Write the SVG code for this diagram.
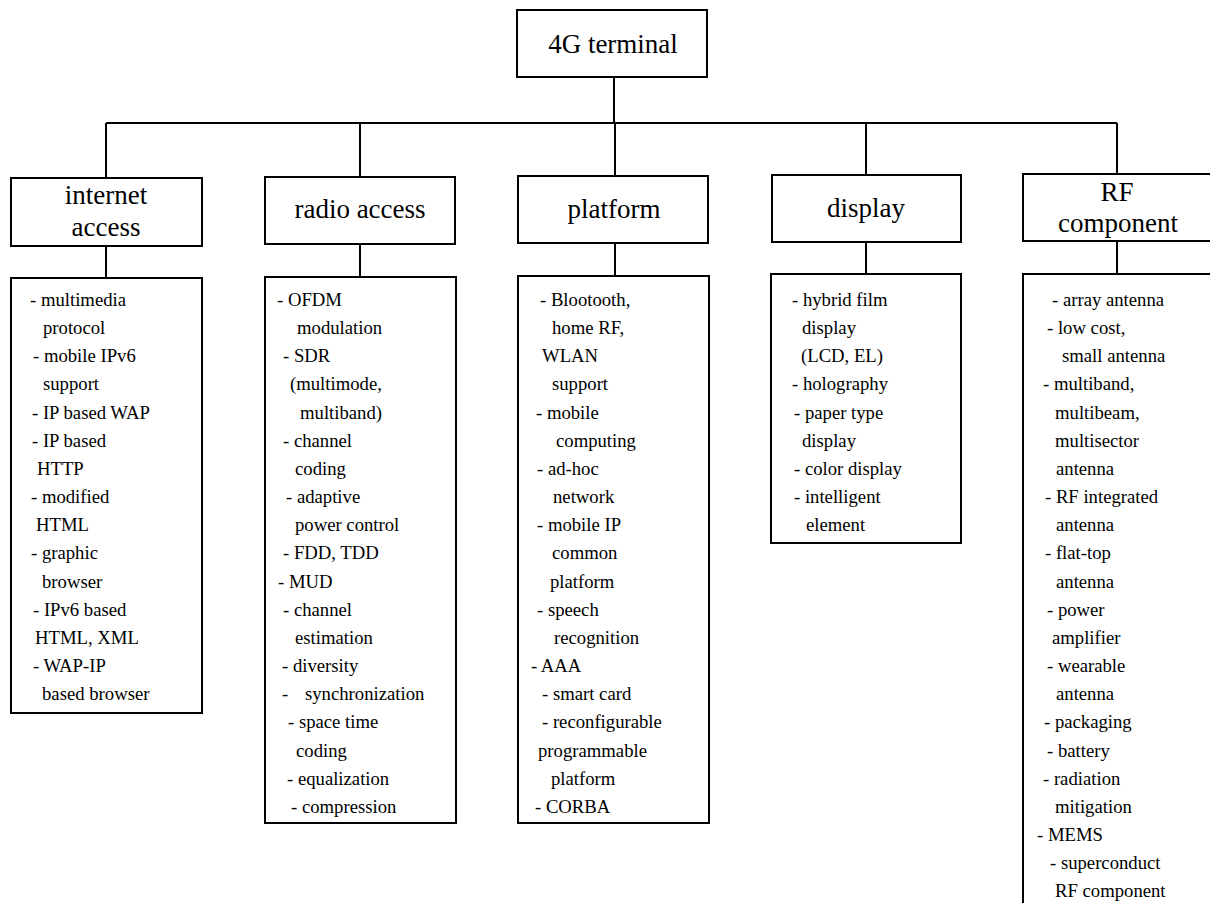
<svg xmlns="http://www.w3.org/2000/svg" width="1210" height="903" viewBox="0 0 1210 903">
<style>
.box{fill:#fff;stroke:#000;stroke-width:2}
.con{fill:none;stroke:#000;stroke-width:2}
.t{font-family:"Liberation Serif","Times New Roman",serif;font-size:27px;fill:#000;text-anchor:middle}
.d{font-family:"Liberation Serif","Times New Roman",serif;font-size:18.7px;fill:#000}
</style>
<rect x="0" y="0" width="1210" height="903" fill="#fff"/>
<g id="connectors">
<path class="con" d="M614 77V123M106 123H1117M106 123V178M360 123V177M615 123V176M866 123V175M1117 123V174"/>
<path class="con" d="M106 246V278M360 244V277M615 243V276M866 242V274M1117 241V274"/>
</g>
<g id="n-4g">
<rect class="box" x="517" y="10" width="190" height="67"/>
<text class="t" x="613" y="53">4G terminal</text>
</g>
<g id="n-internet">
<rect class="box" x="11" y="178" width="191" height="68"/>
<text class="t" x="106" y="204">internet</text>
<text class="t" x="106" y="236">access</text>
</g>
<g id="n-radio">
<rect class="box" x="265" y="177" width="190" height="67"/>
<text class="t" x="360" y="218">radio access</text>
</g>
<g id="n-platform">
<rect class="box" x="518" y="176" width="190" height="67"/>
<text class="t" x="614" y="218">platform</text>
</g>
<g id="n-display">
<rect class="box" x="772" y="175" width="189" height="67"/>
<text class="t" x="866" y="217">display</text>
</g>
<g id="n-rf">
<rect class="box" x="1023" y="174" width="190" height="67"/>
<text class="t" x="1117" y="201">RF</text>
<text class="t" x="1118" y="232">component</text>
</g>
<g id="d-internet">
<rect class="box" x="11" y="278" width="191" height="435"/>
<text class="d" x="30" y="306">- multimedia</text>
<text class="d" x="43" y="334">protocol</text>
<text class="d" x="33" y="362">- mobile IPv6</text>
<text class="d" x="43" y="390">support</text>
<text class="d" x="32" y="419">- IP based WAP</text>
<text class="d" x="32" y="447">- IP based</text>
<text class="d" x="37" y="475">HTTP</text>
<text class="d" x="31" y="503">- modified</text>
<text class="d" x="36" y="531">HTML</text>
<text class="d" x="31" y="559">- graphic</text>
<text class="d" x="42" y="588">browser</text>
<text class="d" x="33" y="616">- IPv6 based</text>
<text class="d" x="35" y="644">HTML, XML</text>
<text class="d" x="33" y="672">- WAP-IP</text>
<text class="d" x="42" y="700">based browser</text>
</g>
<g id="d-radio">
<rect class="box" x="265" y="277" width="191" height="546"/>
<text class="d" x="277" y="306">- OFDM</text>
<text class="d" x="297" y="334">modulation</text>
<text class="d" x="283" y="362">- SDR</text>
<text class="d" x="290" y="390">(multimode,</text>
<text class="d" x="300" y="419">multiband)</text>
<text class="d" x="283" y="447">- channel</text>
<text class="d" x="295" y="475">coding</text>
<text class="d" x="286" y="503">- adaptive</text>
<text class="d" x="295" y="531">power control</text>
<text class="d" x="283" y="559">- FDD, TDD</text>
<text class="d" x="278" y="588">- MUD</text>
<text class="d" x="283" y="616">- channel</text>
<text class="d" x="295" y="644">estimation</text>
<text class="d" x="282" y="672">- diversity</text>
<text class="d" x="282" y="700">-</text>
<text class="d" x="305" y="700">synchronization</text>
<text class="d" x="288" y="728">- space time</text>
<text class="d" x="296" y="757">coding</text>
<text class="d" x="287" y="785">- equalization</text>
<text class="d" x="291" y="813">- compression</text>
</g>
<g id="d-platform">
<rect class="box" x="518" y="276" width="191" height="547"/>
<text class="d" x="540" y="306">- Blootooth,</text>
<text class="d" x="552" y="334">home RF,</text>
<text class="d" x="542" y="362">WLAN</text>
<text class="d" x="552" y="390">support</text>
<text class="d" x="536" y="419">- mobile</text>
<text class="d" x="556" y="447">computing</text>
<text class="d" x="537" y="475">- ad-hoc</text>
<text class="d" x="553" y="503">network</text>
<text class="d" x="537" y="531">- mobile IP</text>
<text class="d" x="552" y="559">common</text>
<text class="d" x="550" y="588">platform</text>
<text class="d" x="537" y="616">- speech</text>
<text class="d" x="554" y="644">recognition</text>
<text class="d" x="531" y="672">- AAA</text>
<text class="d" x="542" y="700">- smart card</text>
<text class="d" x="542" y="728">- reconfigurable</text>
<text class="d" x="538" y="757">programmable</text>
<text class="d" x="551" y="785">platform</text>
<text class="d" x="535" y="813">- CORBA</text>
</g>
<g id="d-display">
<rect class="box" x="771" y="274" width="190" height="269"/>
<text class="d" x="792" y="306">- hybrid film</text>
<text class="d" x="802" y="334">display</text>
<text class="d" x="801" y="362">(LCD, EL)</text>
<text class="d" x="792" y="390">- holography</text>
<text class="d" x="794" y="419">- paper type</text>
<text class="d" x="802" y="447">display</text>
<text class="d" x="794" y="475">- color display</text>
<text class="d" x="794" y="503">- intelligent</text>
<text class="d" x="806" y="531">element</text>
</g>
<g id="d-rf">
<rect class="box" x="1023" y="274" width="190" height="640"/>
<text class="d" x="1052" y="306">- array antenna</text>
<text class="d" x="1047" y="334">- low cost,</text>
<text class="d" x="1062" y="362">small antenna</text>
<text class="d" x="1043" y="390">- multiband,</text>
<text class="d" x="1055" y="419">multibeam,</text>
<text class="d" x="1055" y="447">multisector</text>
<text class="d" x="1056" y="475">antenna</text>
<text class="d" x="1045" y="503">- RF integrated</text>
<text class="d" x="1056" y="531">antenna</text>
<text class="d" x="1045" y="559">- flat-top</text>
<text class="d" x="1056" y="588">antenna</text>
<text class="d" x="1047" y="616">- power</text>
<text class="d" x="1052" y="644">amplifier</text>
<text class="d" x="1047" y="672">- wearable</text>
<text class="d" x="1056" y="700">antenna</text>
<text class="d" x="1044" y="728">- packaging</text>
<text class="d" x="1047" y="757">- battery</text>
<text class="d" x="1043" y="785">- radiation</text>
<text class="d" x="1055" y="813">mitigation</text>
<text class="d" x="1037" y="841">- MEMS</text>
<text class="d" x="1050" y="869">- superconduct</text>
<text class="d" x="1055" y="897">RF component</text>
</g>
</svg>
